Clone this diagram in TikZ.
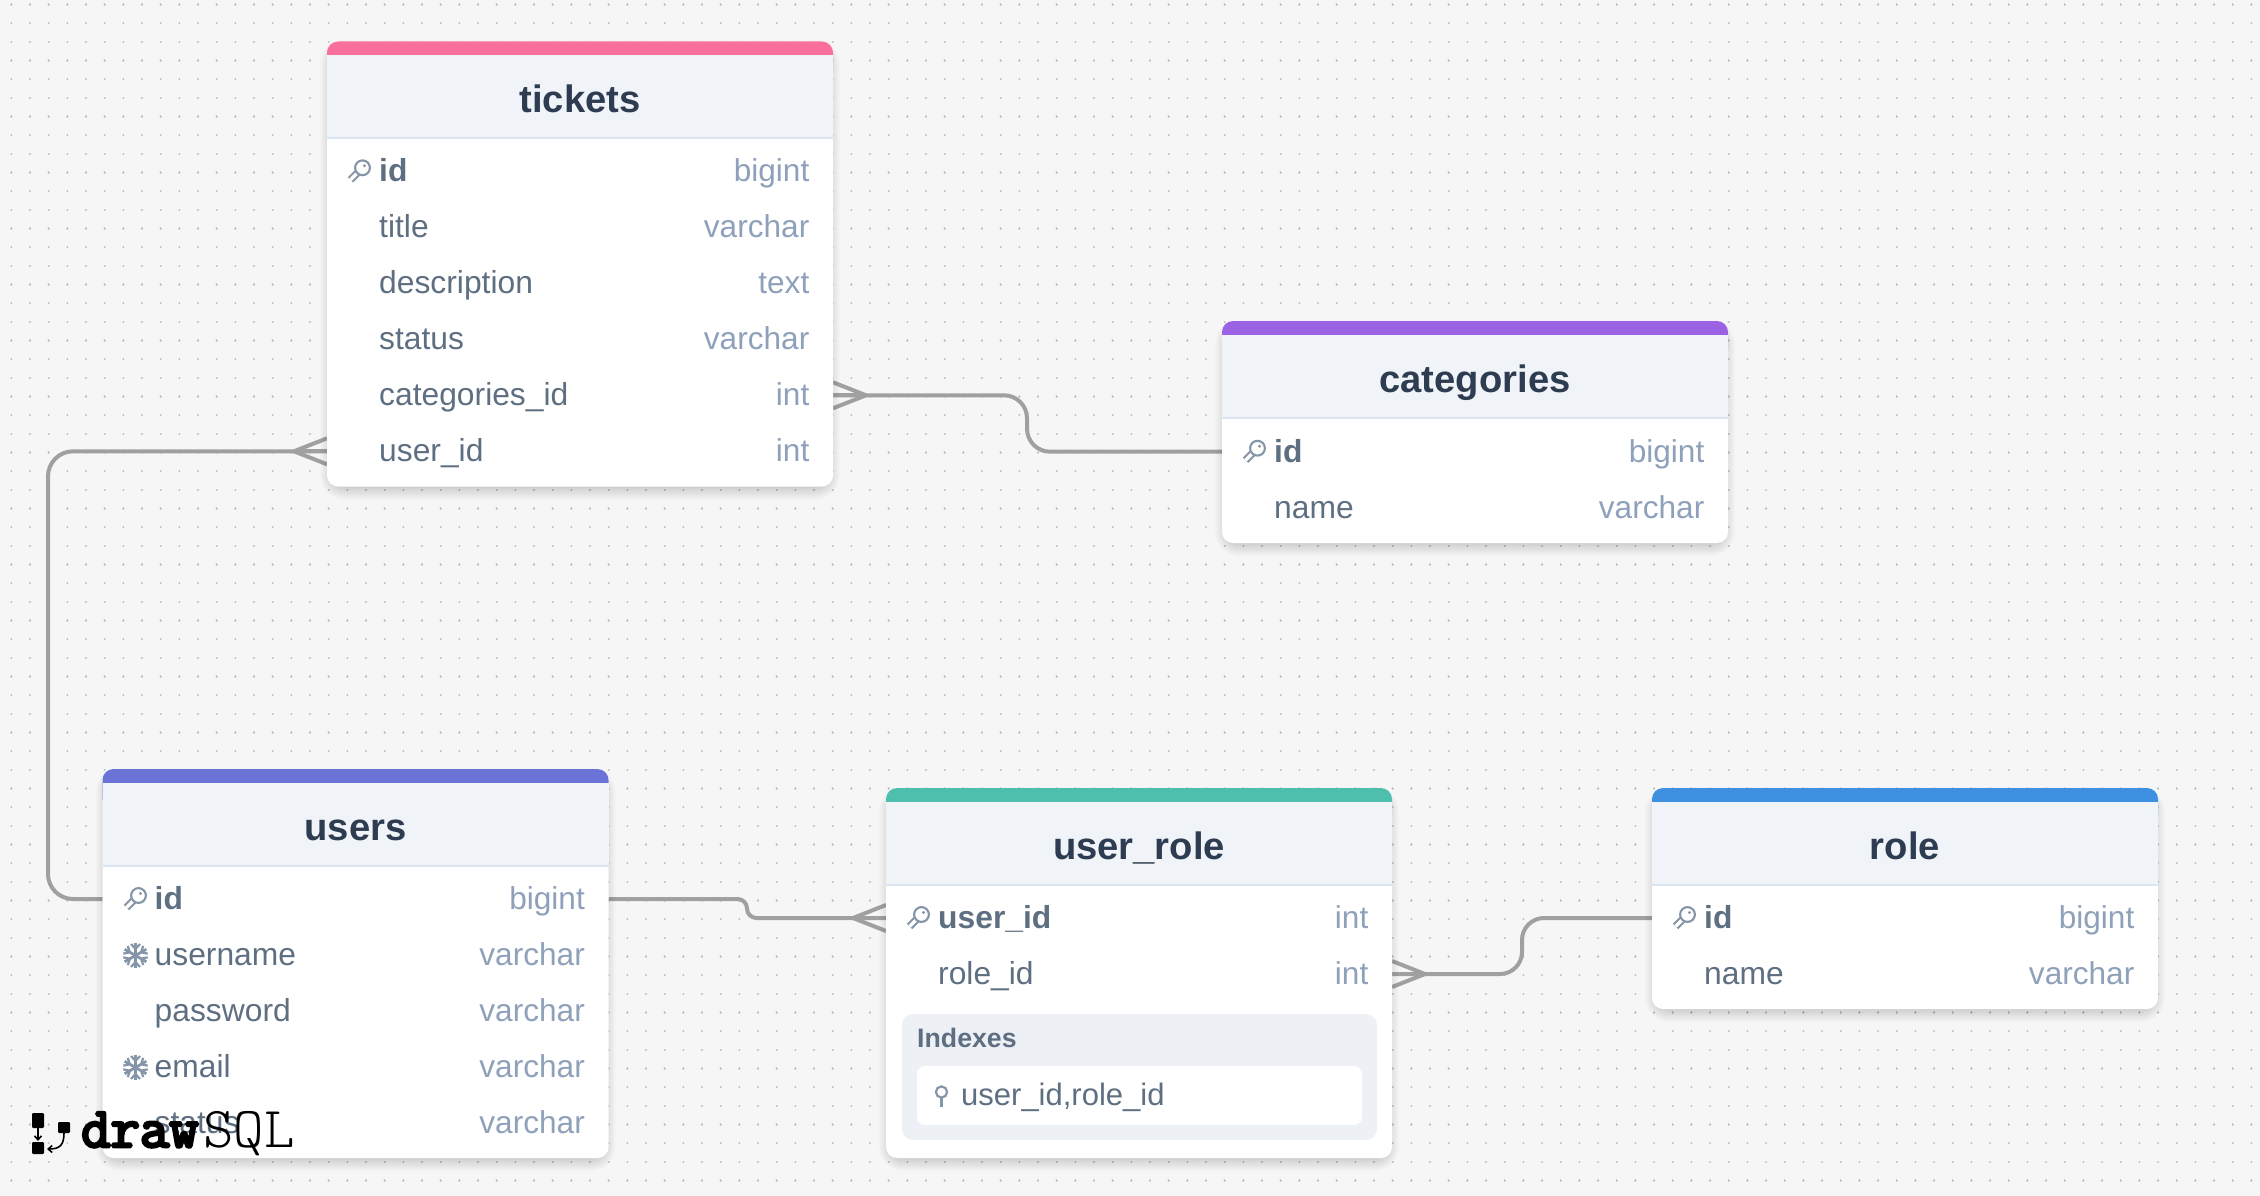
\documentclass[tikz,border=0pt]{standalone}
\usepackage{fontspec}
\setmainfont{Liberation Sans}
\newfontfamily\logolight{Latin Modern Mono Light}
\newfontfamily\logobold[FakeBold=5]{Latin Modern Mono}
\usetikzlibrary{calc,arrows.meta}
\definecolor{pagebg}{HTML}{F6F6F6}
\definecolor{griddot}{HTML}{BEBEBE}
\definecolor{hdrfill}{HTML}{F0F4F8}
\definecolor{hdrline}{HTML}{DCE6F0}
\definecolor{titlecol}{HTML}{2D3C50}
\definecolor{fieldcol}{HTML}{5F6F82}
\definecolor{typecol}{HTML}{8FA1BA}
\definecolor{iconcol}{HTML}{8595A8}
\definecolor{conncol}{HTML}{A0A0A0}
\definecolor{idxfill}{HTML}{EDF1F6}
\definecolor{barpink}{HTML}{F96F9B}
\definecolor{barpurple}{HTML}{9B63E3}
\definecolor{barindigo}{HTML}{6B74D6}
\definecolor{barteal}{HTML}{4FBFAD}
\definecolor{barblue}{HTML}{3D91E0}
\pgfdeclarelayer{bgl}
\pgfdeclarelayer{connl}
\pgfsetlayers{bgl,connl,main}
\tikzset{
  cardbox/.style={fill=white,rounded corners=11pt,inner sep=0pt,outer sep=0pt,anchor=north west,minimum width=506pt},
  tabletitle/.style={font=\fontsize{38.2}{42}\selectfont\bfseries,text=titlecol,inner sep=0pt,anchor=base},
  fieldname/.style={font=\fontsize{31.8}{36}\selectfont,text=fieldcol,inner sep=0pt,anchor=base west},
  fieldkey/.style={font=\fontsize{31.8}{36}\selectfont\bfseries,text=fieldcol,inner sep=0pt,anchor=base west},
  fieldtype/.style={font=\fontsize{31.6}{36}\selectfont,text=typecol,inner sep=0pt,anchor=base east},
  conn/.style={draw=conncol,line width=4pt},
  iconline/.style={draw=iconcol,line width=2.2pt},
  keyicon/.pic={
    \draw[iconcol,line width=7.5pt] (0,0) -- (-8.5,8.5);
    \draw[white,line width=3.4pt] (2,-2) -- (-8.5,8.5);
    \filldraw[fill=white,draw=iconcol,line width=2.1pt] (3.5,-3.5) circle (7.4);
    \fill[iconcol] (5.5,-5.5) circle (1.6);
  },
  flakeicon/.pic={
    \foreach \a in {30,90,...,330}{
      \begin{scope}[rotate=\a]
        \draw[iconcol,line width=2.8pt] (0,0) -- (12.5,0);
        \draw[iconcol,line width=2.2pt] (11.5,-4.5) -- (6.5,0) -- (11.5,4.5);
      \end{scope}
    }
  },
}
\newcommand\ercard[5]{%
  \def\cardL{#2}%
  \foreach \s in {1,2,...,13}{
    \fill[black,opacity=0.011,rounded corners={11pt+\s pt}] ({#2+6-\s},{#3+12-\s}) rectangle ({#2+500+\s},{#3+#4+\s});
  }
  \node[cardbox,minimum height=#4 pt] (#1) at (#2,#3) {};
  \fill[#5,rounded corners=11pt] (#2,{#3+40}) rectangle ({#2+506},#3);
  \fill[hdrfill] (#2,{#3+14}) rectangle ({#2+506},{#3+96});
  \fill[hdrline] (#2,{#3+96}) rectangle ({#2+506},{#3+98});
}
\newcommand\errow[5]{% port name, y, style, field, type
  \coordinate (#1L) at (\cardL,#2);
  \coordinate (#1R) at ({\cardL+506},#2);
  \node[#3] (#1-name) at ({\cardL+52},{#2+10.6}) {#4};
  \node[fieldtype] (#1-type) at ({\cardL+482.5},{#2+10.6}) {#5};
}
\newcommand\crow[2]{% port, direction
  \draw[conn] ($(#1)+(#2*33,0)$) -- (#1);
  \draw[conn] ($(#1)+(#2*33,0)$) -- ($(#1)+(0,-13)$);
  \draw[conn] ($(#1)+(#2*33,0)$) -- ($(#1)+(0,13)$);
}
\begin{document}
\begin{tikzpicture}[x=1pt,y=-1pt]
\useasboundingbox (0,0) rectangle (2260,1196);
\begin{pgfonlayer}{bgl}
  \fill[pagebg] (0,0) rectangle (2260,1196);
  \foreach \j in {0,...,63}{
    \draw[griddot,line width=2.3pt,line cap=round,dash pattern=on 0.01pt off 18.657pt] (11.33,{4.6+18.667*\j}) -- (2260,{4.6+18.667*\j});
  }
\end{pgfonlayer}

% tickets
\ercard{tickets}{327}{41.5}{445}{barpink}
\node[tabletitle] (tickets-title) at (580,113) {tickets};
\errow{tId}{171.3}{fieldkey}{id}{bigint}
\errow{tTitle}{227.3}{fieldname}{title}{varchar}
\errow{tDesc}{283.3}{fieldname}{description}{text}
\errow{tStatus}{339.3}{fieldname}{status}{varchar}
\errow{tCat}{395.3}{fieldname}{categories\_id}{int}
\errow{tUser}{451.3}{fieldname}{user\_id}{int}
\pic at (359,171.3) {keyicon};

% categories
\ercard{categories}{1222}{321}{222}{barpurple}
\node[tabletitle] (categories-title) at (1475,392) {categories};
\errow{cId}{451.7}{fieldkey}{id}{bigint}
\errow{cName}{507.7}{fieldname}{name}{varchar}
\pic at (1254,451.7) {keyicon};

% users
\ercard{users}{102.5}{769}{389}{barindigo}
\node[tabletitle] (users-title) at (355.5,840) {users};
\errow{uId}{899}{fieldkey}{id}{bigint}
\errow{uName}{955.2}{fieldname}{username}{varchar}
\errow{uPass}{1011.2}{fieldname}{password}{varchar}
\errow{uMail}{1067.2}{fieldname}{email}{varchar}
\errow{uStatus}{1123.2}{fieldname}{status}{varchar}
\pic at (135,899) {keyicon};
\pic at (135.5,955.5) {flakeicon};
\pic at (135.5,1067.5) {flakeicon};

% user_role
\ercard{userrole}{886}{788}{370}{barteal}
\node[tabletitle] (userrole-title) at (1139,859) {user\_role};
\errow{rUser}{918}{fieldkey}{user\_id}{int}
\errow{rRole}{974}{fieldname}{role\_id}{int}
\pic at (918,918) {keyicon};
\fill[idxfill,rounded corners=11pt] (902,1014) rectangle (1377,1140);
\fill[white,rounded corners=8pt] (917,1066) rectangle (1362,1125);
\node[font=\fontsize{26.7}{30}\selectfont\bfseries,text=fieldcol,inner sep=0pt,anchor=base west] (indexes-label) at (917,1047) {Indexes};
\node[font=\fontsize{31}{34}\selectfont,text=fieldcol,inner sep=0pt,anchor=base west] (index-entry) at (961,1105) {user\_id,role\_id};
\draw[iconline] (941.5,1092) circle (5.6);
\draw[iconline] (941.5,1098) -- (941.5,1107);

% role
\ercard{role}{1652}{788}{221}{barblue}
\node[tabletitle] (role-title) at (1905,859) {role};
\errow{oId}{918}{fieldkey}{id}{bigint}
\errow{oName}{974}{fieldname}{name}{varchar}
\pic at (1684,918) {keyicon};

% connectors
\begin{pgfonlayer}{connl}
  \coordinate (mA) at (1027,0);
  \coordinate (mB) at (48,0);
  \coordinate (mC) at (747,0);
  \coordinate (mD) at (1522,0);
  \draw[conn,rounded corners=23pt] (tCatR) -- (tCatR -| mA) -- (cIdL -| mA) -- (cIdL);
  \crow{tCatR}{1}
  \draw[conn,rounded corners=25pt] (tUserL) -- (tUserL -| mB) -- (uIdL -| mB) -- (uIdL);
  \crow{tUserL}{-1}
  \draw[conn,rounded corners=9.5pt] (uIdR) -- (uIdR -| mC) -- (rUserL -| mC) -- (rUserL);
  \crow{rUserL}{-1}
  \draw[conn,rounded corners=22pt] (rRoleR) -- (rRoleR -| mD) -- (oIdL -| mD) -- (oIdL);
  \crow{rRoleR}{1}
\end{pgfonlayer}

% logo
\fill[black,rounded corners=1.2pt] (32,1113) rectangle (44,1128);
\fill[black,rounded corners=1.2pt] (32,1142) rectangle (44,1154);
\fill[black,rounded corners=1.2pt] (58,1122) rectangle (70,1133);
\draw[black,line width=1.6pt,-{Straight Barb[length=4pt,width=7pt]}] (38,1128) -- (38,1141);
\draw[black,line width=1.6pt,-{Straight Barb[length=4pt,width=7pt]}] (64,1133) .. controls (64,1145) and (60,1149) .. (47,1149);
\node[font=\fontsize{57}{60}\logobold,text=black,inner sep=0pt,anchor=base west] (logo-draw) at (81,1147) {draw};
\node[font=\fontsize{58}{60}\logolight,text=black,inner sep=0pt,anchor=base west] (logo-sql) at (203,1147) {SQL};
\end{tikzpicture}
\end{document}
